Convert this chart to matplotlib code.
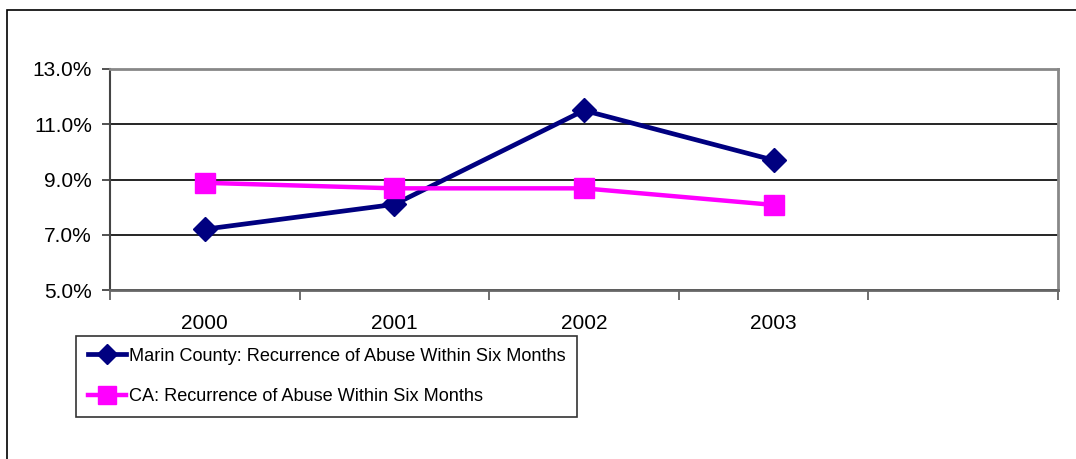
import matplotlib
matplotlib.use("Agg")
import matplotlib.pyplot as plt
from matplotlib.patches import Rectangle
from matplotlib.ticker import FixedLocator, FuncFormatter

# Recurrence of abuse within six months, percent
years = ["2000", "2001", "2002", "2003"]
marin = [7.2, 8.1, 11.5, 9.7]
state = [8.88, 8.68, 8.68, 8.08]
y_ticks = [5, 7, 9, 11, 13]

plt.rcParams['font.family'] = ['Liberation Sans', 'DejaVu Sans']

W, H = 1076, 459
fig = plt.figure(figsize=(W / 100, H / 100), dpi=100)

# outer chart frame (open on right and bottom)
fig.patches.append(Rectangle((7 / W, -0.1), 1.2, 1 - 10 / H + 0.1,
                             transform=fig.transFigure, fill=False,
                             edgecolor='black', linewidth=1.2))

ax = fig.add_axes([110 / W, (H - 290) / H, 948 / W, 221 / H])

x = list(range(len(years)))
ax.plot(x, marin, color='#000080', linewidth=3.4, marker='D', markersize=12,
        label="Marin County: Recurrence of Abuse Within Six Months", zorder=3)
ax.plot(x, state, color='#FF00FF', linewidth=3.2, marker='s', markersize=15,
        label="CA: Recurrence of Abuse Within Six Months", zorder=3)

ax.set_xlim(-0.5, 4.5)
ax.set_ylim(5, 13)

# category boundaries get tick marks, centres get the year labels
ax.xaxis.set_major_locator(FixedLocator([i - 0.5 for i in range(6)]))
ax.xaxis.set_major_formatter(FuncFormatter(lambda v, p: ""))
ax.xaxis.set_minor_locator(FixedLocator(x))
ax.set_xticklabels(years, minor=True)
ax.tick_params(axis='x', which='major', length=7, width=1.2, color='#555555', direction='out')
ax.tick_params(axis='x', which='minor', length=0, pad=17, labelsize=15)

ax.set_yticks(y_ticks)
ax.yaxis.set_major_formatter(FuncFormatter(lambda v, p: f"{v:.1f}%"))
ax.tick_params(axis='y', length=6, width=1.2, color='#333333', direction='out', labelsize=15, pad=7)

ax.grid(axis='y', color='black', linewidth=1.2)
ax.set_axisbelow(True)

for side in ['top', 'right']:
    ax.spines[side].set_color('#888888')
    ax.spines[side].set_linewidth(2)
ax.spines['left'].set_color('#444444')
ax.spines['left'].set_linewidth(1.5)
ax.spines['bottom'].set_color('#666666')
ax.spines['bottom'].set_linewidth(2)

leg = fig.legend(loc='upper left', bbox_to_anchor=(76 / W, 1 - 336 / H),
                 frameon=True, fancybox=False, edgecolor='black',
                 prop={'size': 13.1},
                 handlelength=2.1, handletextpad=0.15, borderpad=0.65,
                 labelspacing=1.3, borderaxespad=0, markerscale=0.85)
leg.get_frame().set_linewidth(1.2)

fig.savefig("out.png", dpi=100)
